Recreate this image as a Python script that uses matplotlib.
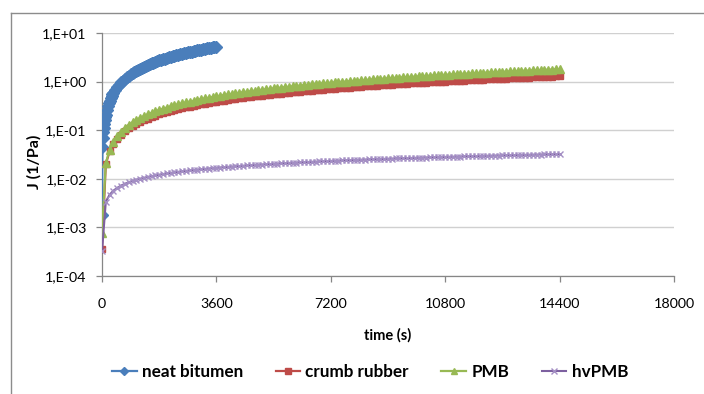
import matplotlib
matplotlib.use("Agg")
import matplotlib.pyplot as plt
from matplotlib.lines import Line2D

# ---- data -------------------------------------------------------------
# creep compliance J (1/Pa) against time (s)
t_neat = [0, 15, 30, 45, 60, 75, 90, 105, 120, 150, 180, 210, 240, 270, 300, 330,
          360, 420, 480, 540, 600, 660, 720, 780, 840, 900, 960, 1020, 1080, 1140,
          1200, 1260, 1320, 1380, 1440, 1500, 1560, 1620, 1680, 1740, 1800, 1860,
          1920, 1980, 2040, 2100, 2160, 2220, 2280, 2340, 2400, 2460, 2520, 2580,
          2640, 2700, 2760, 2820, 2880, 2940, 3000, 3060, 3120, 3180, 3240, 3300,
          3360, 3420, 3480, 3540, 3600]
j_neat = [0.0018, 0.046, 0.068, 0.090, 0.1089, 0.1345, 0.1598, 0.1849, 0.2098,
          0.2591, 0.3079, 0.3563, 0.4042, 0.4518, 0.4992, 0.5462, 0.5932, 0.6862,
          0.7787, 0.8705, 0.9616, 1.052, 1.143, 1.233, 1.322, 1.411, 1.500, 1.588,
          1.677, 1.765, 1.853, 1.940, 2.027, 2.113, 2.200, 2.286, 2.373, 2.459,
          2.546, 2.633, 2.719, 2.804, 2.889, 2.974, 3.059, 3.144, 3.229, 3.314,
          3.399, 3.484, 3.569, 3.653, 3.737, 3.821, 3.905, 3.989, 4.073, 4.157,
          4.240, 4.324, 4.408, 4.491, 4.574, 4.657, 4.740, 4.823, 4.906, 4.989,
          5.072, 5.155, 5.238]

# the three modified binders share the same time base (0 ... 14400 s, step 120 s)
t_mod = list(range(0, 14401, 120))

j_crumb = [0.00036,
           0.0200, 0.0366, 0.0520, 0.0668, 0.0811, 0.0951, 0.1087, 0.1221, 0.1353, 0.1483,
           0.1611, 0.1737, 0.1863, 0.1987, 0.2110, 0.2231, 0.2352, 0.2472, 0.2592, 0.2710,
           0.2827, 0.2944, 0.3060, 0.3176, 0.3290, 0.3405, 0.3518, 0.3631, 0.3744, 0.3856,
           0.3966, 0.4076, 0.4186, 0.4296, 0.4406, 0.4515, 0.4624, 0.4733, 0.4843, 0.4952,
           0.506, 0.516, 0.527, 0.538, 0.548, 0.559, 0.569, 0.580, 0.591, 0.601,
           0.612, 0.622, 0.632, 0.643, 0.653, 0.663, 0.674, 0.684, 0.694, 0.705,
           0.715, 0.725, 0.735, 0.745, 0.755, 0.766, 0.776, 0.786, 0.796, 0.806,
           0.816, 0.826, 0.836, 0.846, 0.856, 0.865, 0.875, 0.885, 0.895, 0.905,
           0.915, 0.925, 0.934, 0.944, 0.954, 0.964, 0.974, 0.983, 0.993, 1.003,
           1.013, 1.022, 1.032, 1.041, 1.051, 1.061, 1.070, 1.080, 1.089, 1.099,
           1.109, 1.118, 1.128, 1.137, 1.147, 1.156, 1.166, 1.175, 1.185, 1.194,
           1.203, 1.213, 1.222, 1.232, 1.241, 1.250, 1.260, 1.269, 1.279, 1.288]

j_pmb = [0.00077,
         0.0210, 0.0400, 0.0583, 0.0763, 0.0938, 0.111, 0.128, 0.145, 0.162, 0.179,
         0.195, 0.212, 0.228, 0.244, 0.261, 0.277, 0.293, 0.309, 0.325, 0.341,
         0.356, 0.372, 0.388, 0.403, 0.419, 0.435, 0.450, 0.466, 0.481, 0.497,
         0.512, 0.527, 0.543, 0.558, 0.573, 0.588, 0.603, 0.619, 0.634, 0.649,
         0.664, 0.679, 0.694, 0.709, 0.724, 0.739, 0.754, 0.769, 0.784, 0.798,
         0.813, 0.828, 0.843, 0.858, 0.873, 0.887, 0.902, 0.917, 0.931, 0.946,
         0.961, 0.975, 0.990, 1.004, 1.019, 1.034, 1.048, 1.063, 1.077, 1.092,
         1.106, 1.121, 1.135, 1.150, 1.164, 1.178, 1.193, 1.207, 1.222, 1.236,
         1.250, 1.265, 1.279, 1.293, 1.307, 1.322, 1.336, 1.350, 1.365, 1.379,
         1.393, 1.407, 1.422, 1.436, 1.450, 1.464, 1.478, 1.493, 1.507, 1.521,
         1.535, 1.549, 1.564, 1.578, 1.592, 1.606, 1.620, 1.635, 1.649, 1.663,
         1.677, 1.691, 1.705, 1.719, 1.733, 1.747, 1.761, 1.774, 1.788, 1.802]

j_hvpmb = [0.00032,
           0.00340, 0.00471, 0.00570, 0.00652, 0.00724, 0.00789, 0.00849, 0.00903, 0.00955, 0.01004,
           0.01049, 0.01093, 0.01135, 0.01175, 0.01214, 0.01252, 0.01288, 0.01323, 0.01357, 0.01390,
           0.01422, 0.01454, 0.01484, 0.01514, 0.01543, 0.01572, 0.01600, 0.01628, 0.01655, 0.01682,
           0.01708, 0.01734, 0.01759, 0.01784, 0.01808, 0.01832, 0.01856, 0.01879, 0.01902, 0.01925,
           0.01947, 0.01968, 0.01989, 0.02010, 0.02031, 0.02052, 0.02073, 0.02094, 0.02116, 0.02138,
           0.02157, 0.02176, 0.02195, 0.02214, 0.02233, 0.02252, 0.02271, 0.02290, 0.02310, 0.02329,
           0.02347, 0.02364, 0.02382, 0.02399, 0.02417, 0.02434, 0.02452, 0.02469, 0.02487, 0.02504,
           0.02520, 0.02537, 0.02553, 0.02569, 0.02586, 0.02602, 0.02618, 0.02634, 0.02651, 0.02667,
           0.02682, 0.02697, 0.02713, 0.02728, 0.02743, 0.02758, 0.02773, 0.02789, 0.02804, 0.02819,
           0.02833, 0.02847, 0.02862, 0.02876, 0.02890, 0.02904, 0.02918, 0.02933, 0.02947, 0.02961,
           0.02975, 0.02988, 0.03002, 0.03015, 0.03029, 0.03042, 0.03056, 0.03069, 0.03083, 0.03096,
           0.03109, 0.03122, 0.03135, 0.03148, 0.03161, 0.03174, 0.03187, 0.03200, 0.03213, 0.03226]

series_names = ["neat bitumen", "crumb rubber", "PMB", "hvPMB"]

x_ticks = [0, 3600, 7200, 10800, 14400, 18000]
x_tick_labels = ["0", "3600", "7200", "10800", "14400", "18000"]
y_ticks = [1e-4, 1e-3, 1e-2, 1e-1, 1e0, 1e1]
y_tick_labels = ["1,E-04", "1,E-03", "1,E-02", "1,E-01", "1,E+00", "1,E+01"]

# ---- styling ----------------------------------------------------------
plt.rcParams["font.family"] = ["Lato", "DejaVu Sans"]
BLUE, RED, GREEN, PURPLE = "#4A7EBB", "#BE4B48", "#98B954", "#7D60A0"
HV_MARK = "#A48FC4"
AXIS_GREY = "#868686"
GRID_GREY = "#D0D0D0"

styles = [
    dict(color=BLUE, lw=1.6, marker="D", ms=6.0, mfc=BLUE, mec=BLUE),
    dict(color=RED, lw=1.6, marker="s", ms=5.0, mfc=RED, mec=RED),
    dict(color=GREEN, lw=1.6, marker="^", ms=6.2, mfc=GREEN, mec=GREEN),
    dict(color=PURPLE, lw=1.5, marker="x", ms=4.8, mew=1.0, mec=HV_MARK),
]
# smaller symbols for the legend keys
legend_ms = [4.2, 4.0, 4.8, 4.0]

W, H = 704, 394
fig = plt.figure(figsize=(W / 100, H / 100), dpi=100)
ax = fig.add_axes([102 / W, 1 - 276 / H, (674 - 102) / W, (276 - 33) / H])

ax.plot(t_neat, j_neat, zorder=3, **styles[0])
ax.plot(t_mod, j_crumb, zorder=4, **styles[1])
ax.plot(t_mod, j_pmb, zorder=5, **styles[2])
ax.plot(t_mod, j_hvpmb, zorder=6, **styles[3])

ax.set_yscale("log")
ax.set_xlim(0, 18000)
ax.set_ylim(1e-4, 1e1)
ax.set_xticks(x_ticks, x_tick_labels)
ax.set_yticks(y_ticks, y_tick_labels)
ax.minorticks_off()

ax.grid(axis="y", color=GRID_GREY, lw=1.0)
ax.set_axisbelow(True)
for side in ("top", "right"):
    ax.spines[side].set_visible(False)
for side in ("left", "bottom"):
    ax.spines[side].set_color(AXIS_GREY)
    ax.spines[side].set_linewidth(0.9)

ax.tick_params(axis="y", direction="out", length=4, width=0.9, color=AXIS_GREY,
               pad=7, labelsize=10.3, labelcolor="black")
ax.tick_params(axis="x", direction="out", length=4, width=0.9, color=AXIS_GREY,
               pad=12, labelsize=10.3, labelcolor="black")

fig.text(388 / W, 1 - 335 / H, "time (s)", ha="center", va="center",
         fontsize=10.5, fontweight="bold")
fig.text(34 / W, 1 - 162 / H, "J (1/Pa)", ha="center", va="center",
         rotation=90, fontsize=11.5, fontweight="bold")

handles = [Line2D([], [], **{**s, "ms": m}) for s, m in zip(styles, legend_ms)]
fig.legend(handles, series_names, loc="center", bbox_to_anchor=(370 / W, 1 - 372 / H),
           ncol=4, frameon=False, handlelength=1.45, handletextpad=0.3,
           columnspacing=1.9, prop={"weight": "bold", "size": 12.3})

# outer chart frame (top and left edges)
fig.add_artist(Line2D([11 / W, 1.0], [1 - 13 / H, 1 - 13 / H], color="#8C8C8C", lw=1.0))
fig.add_artist(Line2D([11 / W, 11 / W], [0.0, 1 - 13 / H], color="#8C8C8C", lw=1.0))

fig.savefig("out.png", dpi=100)
